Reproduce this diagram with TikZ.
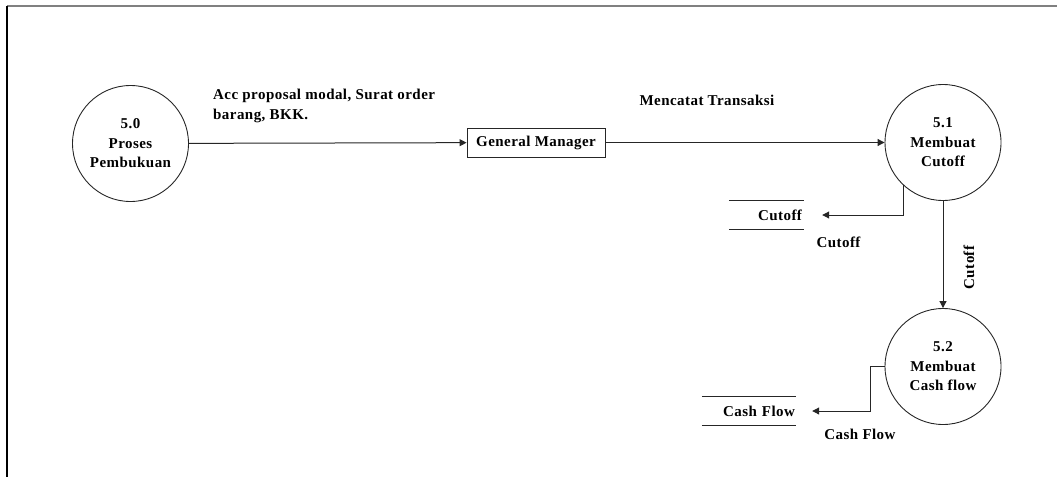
\documentclass[tikz,border=0pt]{standalone}
\usepackage{fontspec}
\setmainfont{Liberation Serif}[LetterSpace=3]
\usetikzlibrary{arrows.meta, positioning}

\begin{document}
\begin{tikzpicture}[x=1pt, y=-1pt,
  font=\fontsize{15}{19.5}\selectfont\bfseries,
  proc/.style={draw=black!85, line width=0.9pt, circle, minimum size=116pt, inner sep=0pt, align=center},
  ent/.style={draw=black!85, line width=0.9pt, minimum width=138pt, minimum height=29pt, inner sep=2pt},
  store/.style={minimum height=28.5pt, inner sep=0pt, align=right},
  flow/.style={draw=black!85, line width=1pt, -{Triangle[length=7pt, width=7pt]}},
  lbl/.style={inner sep=0pt, align=left}
]
  \useasboundingbox (0,0) rectangle (1057,477);
  \draw[black!50, line width=1.6pt] (7,5.7) -- (1057,5.7);
  \draw[black, line width=1.4pt] (7,5.7) -- (7,477);

  \node[proc] (p50) at (130.5,143.5) {5.0\\Proses\\Pembukuan};
  \node[ent] (gm) at (536,142.5) {General Manager};
  \node[proc] (p51) at (943,142.5) {5.1\\Membuat\\Cutoff};
  \node[proc] (p52) at (943,366.5) {5.2\\Membuat\\Cash flow};

  \node[store, minimum width=75pt, text width=71pt] (dcut) at (766.5,215) {Cutoff};
  \draw[black!85, line width=1pt] (dcut.north west) -- (dcut.north east);
  \draw[black!85, line width=1pt] (dcut.south west) -- (dcut.south east);
  \node[store, minimum width=94pt, text width=92pt] (dcash) at (749,411) {Cash Flow};
  \draw[black!85, line width=1pt] (dcash.north west) -- (dcash.north east);
  \draw[black!85, line width=1pt] (dcash.south west) -- (dcash.south east);

  \draw[flow] (p50) -- (gm);
  \draw[flow] (gm) -- (p51);
  \draw[flow, shorten >=18pt] (p51.227) |- (dcut.east);
  \draw[flow] (p51) -- (p52);
  \draw[flow, shorten >=16pt] (p52.west) -- ++(-14,0) |- (dcash.east);

  \node[lbl, anchor=west] (tacc) at (213,106) {Acc proposal modal, Surat order\\barang, BKK.};
  \node[lbl] (tmt) at (707,100.7) {Mencatat Transaksi};
  \node[lbl] (tcut) at (838.5,242) {Cutoff};
  \node[lbl, rotate=90] (tcutv) at (969,267.5) {Cutoff};
  \node[lbl] (tcash) at (860,434.3) {Cash Flow};
\end{tikzpicture}
\end{document}
